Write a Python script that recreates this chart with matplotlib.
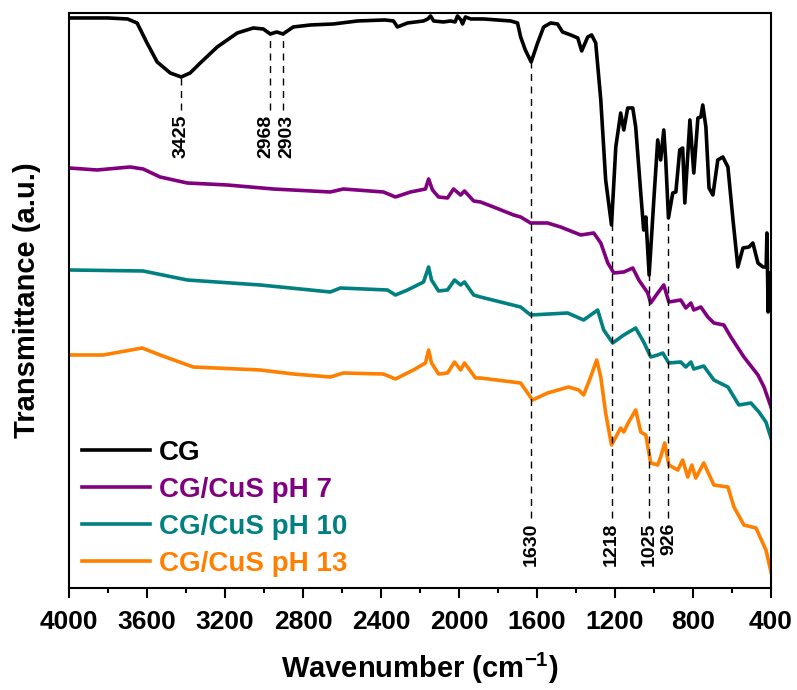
import matplotlib
matplotlib.use("Agg")
import matplotlib.pyplot as plt
from matplotlib.ticker import MultipleLocator

plt.rcParams['font.family'] = ['Liberation Sans', 'DejaVu Sans']
plt.rcParams['font.weight'] = 'bold'
plt.rcParams['mathtext.fontset'] = 'custom'
plt.rcParams['mathtext.rm'] = 'Liberation Sans:bold'
plt.rcParams['mathtext.bf'] = 'Liberation Sans:bold'
plt.rcParams['mathtext.it'] = 'Liberation Sans:bold'

# FTIR spectra, transmittance in arbitrary (offset) units
cg_wn = [4000, 3800, 3700, 3651, 3600, 3548, 3481, 3425, 3379, 3327, 3240, 3137,
         3055, 3004, 2968, 2935, 2903, 2850, 2762, 2644, 2521, 2380, 2336, 2316,
         2264, 2182, 2160, 2146, 2130, 2080, 2044, 2020, 2008, 1990, 1982, 1967,
         1940, 1874, 1735, 1700, 1684, 1660, 1630, 1597, 1566, 1530, 1495, 1469,
         1427, 1391, 1371, 1340, 1320, 1299, 1273, 1248, 1218, 1196, 1171, 1155,
         1135, 1109, 1094, 1068, 1053, 1042, 1025, 1001, 981, 966, 950, 940, 926,
         904, 888, 868, 853, 842, 816, 796, 775, 760, 750, 734, 718, 698, 673, 647,
         621, 595, 570, 544, 513, 493, 467, 441, 425, 421, 418, 415, 411, 405, 400]
cg_t = [570, 570, 569, 565, 545, 526, 515, 511, 515, 525, 541, 555,
        560, 559, 554, 556, 554, 561, 563, 564, 567, 568, 567, 561,
        565, 567, 569, 572, 567, 566, 567, 566, 572, 568, 564, 571,
        569, 569, 567, 565, 551, 538, 526, 545, 561, 565, 564, 556,
        553, 550, 537, 551, 553, 545, 488, 408, 363, 441, 475, 458,
        480, 480, 461, 395, 358, 371, 313, 388, 448, 428, 458, 428, 370,
        395, 396, 438, 440, 385, 468, 415, 470, 471, 483, 461, 400, 393, 428, 431,
        421, 368, 321, 340, 341, 345, 325, 321, 321, 355, 318, 276, 315, 310, 305]

ph7_wn = [4000, 3856, 3687, 3620, 3533, 3394, 3189, 2952, 2660, 2593, 2388, 2326,
          2249, 2172, 2156, 2136, 2105, 2059, 2028, 1992, 1972, 1925, 1890, 1823,
          1720, 1684, 1633, 1546, 1479, 1376, 1309, 1273, 1237, 1206, 1155, 1109,
          1078, 1032, 1017, 981, 950, 924, 863, 837, 811, 796, 760, 724, 693, 642,
          606, 539, 467, 436, 400]
ph7_t = [420, 418, 421, 419, 411, 405, 403, 399, 396, 399, 396, 391,
         396, 399, 409, 398, 391, 390, 399, 393, 397, 387, 386, 381,
         373, 371, 365, 365, 361, 353, 355, 345, 325, 315, 316, 320,
         308, 295, 285, 295, 303, 286, 288, 280, 285, 278, 281, 271, 265, 263,
         251, 231, 213, 201, 181]

ph10_wn = [4000, 3620, 3394, 3019, 2660, 2608, 2367, 2326, 2264, 2182, 2156, 2141,
           2105, 2059, 2023, 1992, 1972, 1925, 1890, 1684, 1633, 1443, 1361, 1289,
           1258, 1212, 1155, 1094, 1053, 1017, 981, 955, 924, 863, 837, 811, 796,
           745, 693, 621, 565, 503, 462, 426, 400]
ph10_t = [318, 317, 308, 303, 296, 300, 298, 293, 298, 306, 321, 308,
          297, 298, 308, 303, 306, 293, 291, 281, 273, 275, 268, 278,
          258, 245, 253, 260, 246, 231, 233, 235, 225, 226, 221, 226, 219,
          222, 208, 201, 183, 185, 176, 166, 150]

ph13_wn = [4000, 3825, 3625, 3533, 3363, 3019, 2850, 2660, 2593, 2388, 2326, 2234,
           2172, 2156, 2141, 2105, 2059, 2023, 1992, 1972, 1915, 1890, 1684, 1623,
           1546, 1438, 1386, 1361, 1325, 1294, 1273, 1248, 1218, 1171, 1155, 1130,
           1094, 1068, 1042, 1017, 981, 966, 945, 924, 878, 853, 827, 806, 786,
           745, 693, 621, 590, 539, 477, 426, 400]
ph13_t = [233, 233, 240, 233, 221, 218, 214, 211, 215, 214, 209, 218,
          225, 238, 225, 214, 215, 226, 218, 225, 210, 210, 205, 188,
          195, 201, 198, 193, 211, 228, 211, 175, 143, 160, 156, 166,
          178, 156, 153, 125, 123, 131, 145, 123, 118, 128, 111, 123, 110,
          125, 103, 101, 81, 63, 60, 38, 16]

labels = ['CG', 'CG/CuS pH 7', 'CG/CuS pH 10', 'CG/CuS pH 13']
colors = ['black', '#800080', '#008080', '#FF8000']

# marked bands: wavenumber, top of guide line, bottom of guide line
peak_wn = [3425, 2968, 2903, 1630, 1218, 1025, 926]
peak_top = [511, 554, 554, 526, 363, 313, 370]
peak_bottom = [478, 478, 478, 70, 70, 70, 70]
# where each band label sits (close pairs spread apart a little)
peak_label_x = [3425, 2988, 2883, 1630, 1218, 1025, 926]

fig = plt.figure(figsize=(7.97, 6.90), dpi=100)
ax = fig.add_axes([0.0866, 0.1478, 0.8808, 0.8334])

series = [(cg_wn, cg_t), (ph7_wn, ph7_t), (ph10_wn, ph10_t), (ph13_wn, ph13_t)]
for (wn, t), lab, c in zip(series, labels, colors):
    ax.plot(wn, t, color=c, lw=2.6, label=lab, solid_joinstyle='round')

ax.vlines(peak_wn, peak_bottom, peak_top, colors='black', linestyles=(0, (5, 4)), lw=1.0)
for wn, lx, yb in zip(peak_wn, peak_label_x, peak_bottom):
    ax.text(lx, yb - 5, str(wn), rotation=90, ha='center', va='top',
            fontsize=14, fontweight='bold')

ax.set_xlim(4000, 400)
ax.set_ylim(0, 575)
ax.xaxis.set_major_locator(MultipleLocator(400))
ax.xaxis.set_minor_locator(MultipleLocator(200))
ax.set_yticks([])
ax.tick_params(axis='x', which='major', direction='out', length=7, width=1.5,
               labelsize=19, pad=9)
ax.tick_params(axis='x', which='minor', direction='out', length=3.5, width=1.5)
for sp in ax.spines.values():
    sp.set_linewidth(1.5)

ax.set_xlabel('Wavenumber (cm$^{-1}$)', fontsize=21, fontweight='bold', labelpad=12)
ax.set_ylabel('Transmittance (a.u.)', fontsize=21, fontweight='bold', labelpad=20)

leg = ax.legend(loc='lower left', bbox_to_anchor=(0.003, 0.0), frameon=False,
                fontsize=20, handlelength=2.45, handletextpad=0.3,
                labelspacing=0.4, borderaxespad=0.0, labelcolor='linecolor')

fig.savefig('out.png', dpi=100)
